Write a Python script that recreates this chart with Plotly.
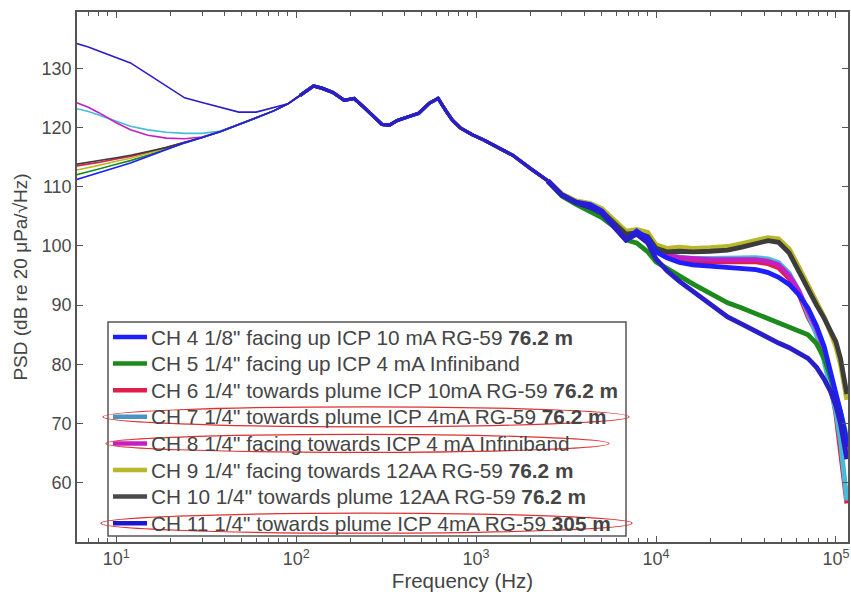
import plotly.graph_objects as go

# ---------------- data ----------------
FREQ = [6, 7, 8, 10, 12, 15, 19, 24, 30, 38, 48, 60, 75,
        90, 105, 125, 140, 160, 185, 210, 240, 270, 300, 330, 365, 420, 480,
        550, 615, 680, 740, 820, 950, 1100, 1300, 1600, 2000, 2500,
        3000, 3600, 4300, 5000, 5800, 6800, 7800, 9000, 10000, 11500, 13500,
        16000, 20000, 25000, 30000, 36000, 42000, 48000, 55000, 62000, 70000,
        78000, 86000, 93000, 100000, 106000, 112000, 115000]

# 6 .. 75 Hz, per channel
LF_CH4 = [111.2, 111.8, 112.4, 113.3, 114.0, 115.1, 116.3, 117.4, 118.3, 119.3, 120.5, 121.6, 122.8]
LF_CH5 = [112.0, 112.5, 113.0, 113.8, 114.4, 115.3, 116.4, 117.4, 118.3, 119.3, 120.5, 121.6, 122.8]
LF_CH6 = [113.5, 113.8, 114.1, 114.7, 115.1, 115.8, 116.6, 117.5, 118.3, 119.3, 120.5, 121.6, 122.8]
LF_CH7 = [123.2, 122.7, 122.1, 121.0, 120.2, 119.6, 119.2, 119.0, 119.0, 119.4, 120.5, 121.6, 122.8]
LF_CH8 = [124.2, 123.4, 122.5, 120.8, 119.6, 118.7, 118.2, 118.1, 118.4, 119.3, 120.5, 121.6, 122.8]
LF_CH9 = [112.8, 113.2, 113.6, 114.3, 114.8, 115.6, 116.5, 117.5, 118.3, 119.3, 120.5, 121.6, 122.8]
LF_CH10 = [113.8, 114.1, 114.4, 114.9, 115.3, 115.9, 116.6, 117.5, 118.3, 119.3, 120.5, 121.6, 122.8]
LF_CH11 = [134.2, 133.6, 132.9, 131.8, 130.9, 129.0, 127.0, 125.0, 124.2, 123.4, 122.6, 122.6, 123.4]

# 90 .. 2500 Hz, shared by all channels
MID_ALL = [124.0, 125.4, 127.0, 126.6, 125.9, 124.6, 124.9, 123.3, 121.8, 120.5, 120.4,
           121.2, 121.8, 122.4, 124.1, 124.9, 122.8, 121.2, 119.9, 118.8, 117.9, 116.8,
           115.3, 113.1, 111.0]

# 3 kHz .. 115 kHz, per channel
HF_CH4 = [108.6, 107.4, 107.0, 105.9, 103.5, 101.0, 102.5, 101.2, 99.0, 98.0, 97.2,
          96.8, 96.6, 96.4, 96.2, 96.0, 95.5, 94.7, 93.5, 91.8, 89.5, 86.5, 83.0,
          79.0, 75.5, 72.0, 68.5, 66.0]
HF_CH5 = [108.4, 107.0, 105.7, 104.8, 103.3, 101.0, 100.5, 99.0, 97.3, 96.2, 94.8,
          93.6, 92.0, 90.4, 89.5, 88.5, 87.7, 87.0, 86.3, 85.7, 85.0, 83.5, 81.0,
          78.0, 75.0, 72.0, 69.0, 67.0]
HF_CH6 = [108.6, 107.2, 106.8, 105.8, 103.8, 101.5, 102.4, 101.6, 99.4, 98.3, 97.7,
          97.4, 97.3, 97.3, 97.4, 97.3, 97.0, 96.3, 94.5, 92.0, 88.0, 85.3, 81.5,
          77.0, 71.5, 65.0, 59.0, 56.5]
HF_CH7 = [108.6, 107.2, 106.8, 105.8, 103.8, 101.5, 102.5, 101.8, 99.5, 98.6, 98.1,
          97.9, 97.9, 98.0, 98.1, 98.0, 97.8, 97.2, 95.4, 92.5, 88.5, 85.0, 80.5,
          76.0, 72.0, 67.0, 61.0, 57.0]
HF_CH8 = [108.6, 107.2, 106.8, 105.8, 103.8, 101.5, 102.5, 101.8, 99.5, 98.5, 98.0,
          97.8, 97.7, 97.7, 97.8, 97.7, 97.4, 96.8, 95.0, 92.5, 89.0, 86.0, 82.5,
          78.5, 74.5, 71.0, 67.0, 64.0]
HF_CH9 = [108.8, 107.6, 107.2, 106.3, 104.5, 102.5, 102.8, 102.3, 100.2, 99.6, 99.8,
          99.6, 99.7, 99.9, 100.4, 100.9, 101.4, 101.2, 99.5, 96.5, 93.5, 90.5, 88.0,
          85.5, 83.0, 80.0, 76.0, 74.0]
HF_CH10 = [108.6, 107.3, 106.8, 105.8, 104.0, 102.0, 102.2, 101.6, 99.6, 99.0, 99.1,
           99.0, 99.1, 99.3, 99.8, 100.4, 100.9, 100.6, 98.8, 95.8, 92.5, 90.0, 87.8,
           85.8, 83.8, 81.0, 77.5, 75.0]
HF_CH11 = [108.6, 107.3, 106.5, 105.5, 103.3, 101.0, 102.0, 100.5, 97.8, 95.8, 94.0,
           92.3, 90.0, 88.0, 86.8, 85.5, 84.4, 83.6, 82.8, 82.0, 81.0, 79.5, 77.5,
           75.5, 73.0, 70.0, 66.5, 64.0]

X_TICKS = [10, 100, 1000, 10000, 100000]
X_TICK_TEXT = ["10<sup>1</sup>", "10<sup>2</sup>", "10<sup>3</sup>", "10<sup>4</sup>", "10<sup>5</sup>"]
Y_TICKS = [60, 70, 80, 90, 100, 110, 120, 130]

LABELS = {
    "CH4": 'CH 4 1/8" facing up ICP 10 mA RG-59 <b>76.2 m</b>',
    "CH5": 'CH 5 1/4" facing up ICP 4 mA Infiniband',
    "CH6": 'CH 6 1/4" towards plume ICP 10mA RG-59 <b>76.2 m</b>',
    "CH7": 'CH 7 1/4" towards plume ICP 4mA RG-59 <b>76.2 m</b>',
    "CH8": 'CH 8 1/4" facing towards ICP 4 mA Infiniband',
    "CH9": 'CH 9 1/4" facing towards 12AA RG-59 <b>76.2 m</b>',
    "CH10": 'CH 10 1/4" towards plume 12AA RG-59 <b>76.2 m</b>',
    "CH11": 'CH 11 1/4" towards plume ICP 4mA RG-59 <b>305 m</b>',
}
LEGEND_ORDER = ["CH4", "CH5", "CH6", "CH7", "CH8", "CH9", "CH10", "CH11"]
DRAW_ORDER = ["CH6", "CH7", "CH8", "CH5", "CH9", "CH10", "CH4", "CH11"]
HIGHLIGHTED = ["CH7", "CH8", "CH11"]

SERIES = {
    "CH4": LF_CH4 + MID_ALL + HF_CH4,
    "CH5": LF_CH5 + MID_ALL + HF_CH5,
    "CH6": LF_CH6 + MID_ALL + HF_CH6,
    "CH7": LF_CH7 + MID_ALL + HF_CH7,
    "CH8": LF_CH8 + MID_ALL + HF_CH8,
    "CH9": LF_CH9 + MID_ALL + HF_CH9,
    "CH10": LF_CH10 + MID_ALL + HF_CH10,
    "CH11": LF_CH11 + MID_ALL + HF_CH11,
}
COLORS = {
    "CH4": "#1e1eff", "CH5": "#1c8a1c", "CH6": "#e01e4a", "CH7": "#46bcd8",
    "CH8": "#c41ec4", "CH9": "#b8b82a", "CH10": "#3c3c3c", "CH11": "#2a1ec8",
}
LEGEND_SWATCH = {
    "CH4": "#1e1eff", "CH5": "#1c8a1c", "CH6": "#e01e4a", "CH7": "#4a94c4",
    "CH8": "#c41ec4", "CH9": "#b8b82a", "CH10": "#4a4a4a", "CH11": "#1818d0",
}

# ---------------- figure ----------------
W, H = 851, 595
ML, MR, MT, MB = 77, 3, 12, 53
FONT = "Liberation Sans, Arial, sans-serif"
# stroke bands: thin at low frequency, medium in the mid band, thick (noisy) at high frequency
BANDS = [(0, 14, 1.6), (14, 38, 3.2), (37, len(FREQ), 4.8)]

fig = go.Figure()
for (i0, i1, wdt) in BANDS:
    for ch in DRAW_ORDER:
        y = SERIES[ch]
        fig.add_trace(go.Scatter(
            x=FREQ[i0:i1 + 1], y=y[i0:i1 + 1], mode="lines", name=ch,
            line=dict(color=COLORS[ch], width=wdt), showlegend=False))


def px_to_paper(x, y):
    return (x - ML) / (W - ML - MR), (H - MB - y) / (H - MT - MB)


# ---- legend box (drawn by hand so that its rows match the original spacing) ----
BOX = (108, 322, 626, 536)
ROW0, ROW_STEP = 337, 26.6
bx0, by0 = px_to_paper(BOX[0], BOX[3])
bx1, by1 = px_to_paper(BOX[2], BOX[1])
fig.add_shape(type="rect", xref="paper", yref="paper", x0=bx0, x1=bx1, y0=by0, y1=by1,
              line=dict(color="#555555", width=1.5), fillcolor="white", layer="above")

for i, ch in enumerate(LEGEND_ORDER):
    yr = ROW0 + i * ROW_STEP
    sx0, sy = px_to_paper(113, yr)
    sx1, _ = px_to_paper(147, yr)
    fig.add_shape(type="line", xref="paper", yref="paper", x0=sx0, x1=sx1, y0=sy, y1=sy,
                  line=dict(color=LEGEND_SWATCH[ch], width=4.5), layer="above")
    tx, ty = px_to_paper(149, yr)
    fig.add_annotation(x=tx, y=ty, xref="paper", yref="paper", xanchor="left", yanchor="middle",
                       text=LABELS[ch], showarrow=False,
                       font=dict(family=FONT, size=20.8, color="#454545"))

# red hand-drawn highlight ellipses around three legend rows
ELLIPSE_SPAN = {"CH7": (103, 629, 20), "CH8": (106, 609, 18), "CH11": (101, 632, 20)}
for ch in HIGHLIGHTED:
    x0, x1, h = ELLIPSE_SPAN[ch]
    yc = ROW0 + LEGEND_ORDER.index(ch) * ROW_STEP
    a0, b0 = px_to_paper(x0, yc + h / 2)
    a1, b1 = px_to_paper(x1, yc - h / 2)
    fig.add_shape(type="circle", xref="paper", yref="paper", x0=a0, x1=a1, y0=b0, y1=b1,
                  line=dict(color="#e03030", width=1.2), layer="above")

axis_common = dict(showline=True, linecolor="#555555", linewidth=1.5, mirror="ticks",
                   ticks="inside", tickcolor="#555555", showgrid=False, zeroline=False,
                   tickfont=dict(family=FONT, size=18, color="#4a4a4a"))

fig.update_layout(
    width=W, height=H,
    margin=dict(l=ML, r=MR, t=MT, b=MB, autoexpand=False),
    paper_bgcolor="white", plot_bgcolor="white",
    showlegend=False,
    font=dict(family=FONT, color="#444444"),
    xaxis=dict(type="log", range=[0.782, 5.067], tickmode="array",
               tickvals=X_TICKS, ticktext=X_TICK_TEXT,
               ticklen=6, ticklabeloverflow="allow",
               minor=dict(ticks="inside", ticklen=4, tickcolor="#555555", showgrid=False,
                          tickmode="array",
                          tickvals=[m * d for d in X_TICKS[:-1] + [100000] for m in range(2, 10)]),
               title=dict(text="Frequency (Hz)", font=dict(size=20.5, color="#444444"), standoff=0),
               **axis_common),
    yaxis=dict(range=[50, 139.5], tickvals=Y_TICKS, ticklen=6,
               title=dict(text="PSD (dB re 20 \u03bcPa/\u221aHz)", font=dict(size=19, color="#444444"),
                          standoff=9),
               **axis_common),
)
# minor ticks below 10 Hz as well
fig.layout.xaxis.minor.tickvals = [m for m in range(6, 10)] + list(fig.layout.xaxis.minor.tickvals)

fig.write_html("out.html")
